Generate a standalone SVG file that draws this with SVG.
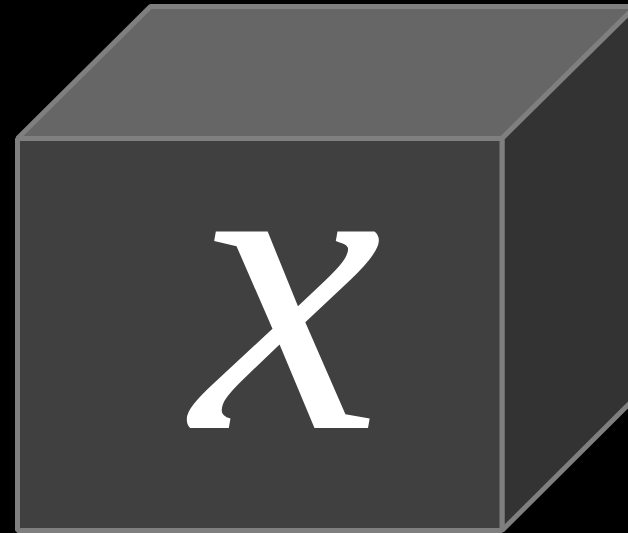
<svg xmlns="http://www.w3.org/2000/svg" width="628" height="533" viewBox="0 0 628 533">
<style>
.edge{stroke:#7f7f7f;stroke-width:5;stroke-linejoin:bevel}
.lbl{font-family:"Liberation Serif","DejaVu Serif",serif;font-style:italic;fill:#ffffff}
</style>
<rect width="628" height="533" fill="#000000"/>
<g id="cube">
<polygon class="edge" points="17.5,138.5 150.5,6.5 635.5,6.5 502,138.5" fill="#666666"/>
<polygon class="edge" points="502,138.5 635.5,6.5 635.5,397.5 502,530.5" fill="#333333"/>
<rect class="edge" x="17.5" y="138.5" width="484.5" height="392" fill="#404040" stroke-linejoin="miter"/>
<text class="lbl" x="287" y="428" font-size="428" text-anchor="middle">x</text>
</g>
</svg>
